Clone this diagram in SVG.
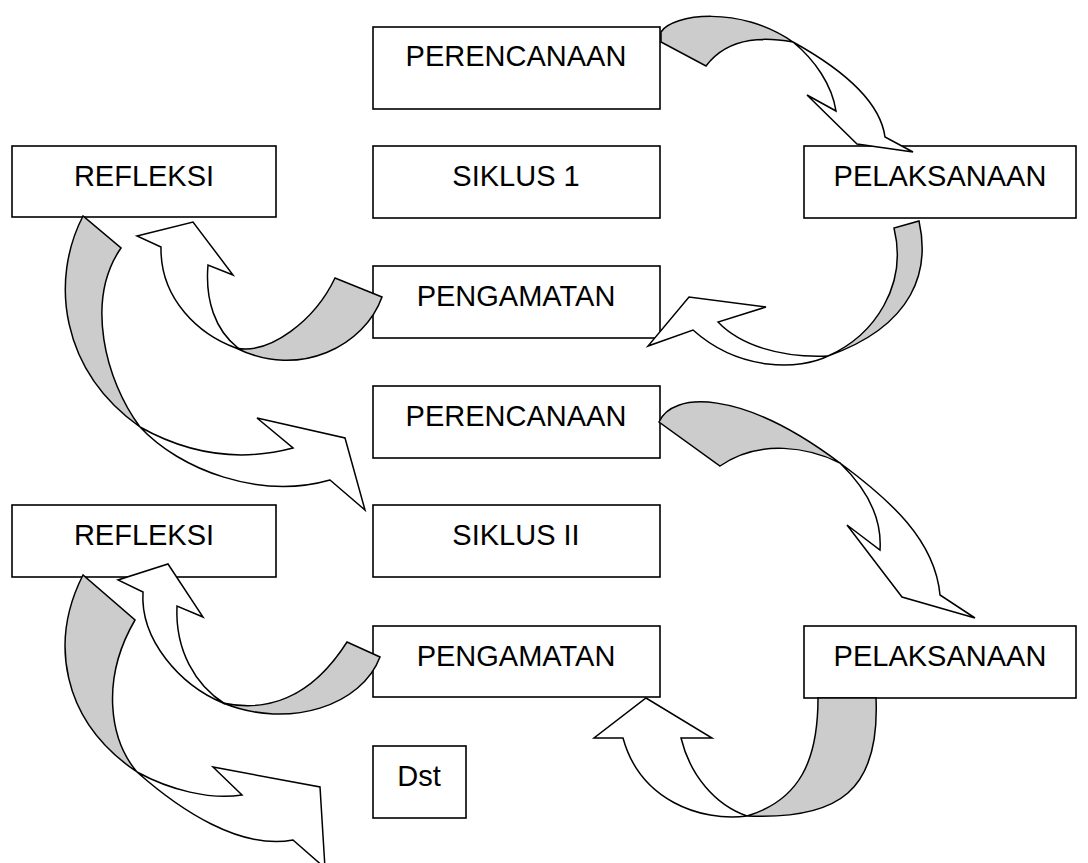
<svg xmlns="http://www.w3.org/2000/svg" width="1088" height="863" viewBox="0 0 1088 863">
<style>
.box{fill:#fff;stroke:#000;stroke-width:1.6}
.lbl{font-family:"Liberation Sans",Arial,sans-serif;font-size:29px;fill:#000;text-anchor:middle}
.back{fill:#cccccc;stroke:#000;stroke-width:1.5;stroke-linejoin:miter}
.front{fill:#fff;stroke:#000;stroke-width:1.5;stroke-linejoin:miter}
</style>
<rect width="1088" height="863" fill="#fff"/>
<g id="perencanaan1"><rect class="box" x="373" y="27" width="287" height="82"/><text class="lbl" x="516" y="66">PERENCANAAN</text></g>
<g id="siklus1"><rect class="box" x="373" y="146" width="287" height="72"/><text class="lbl" x="516" y="186">SIKLUS 1</text></g>
<g id="refleksi1"><rect class="box" x="12" y="146" width="264" height="71"/><text class="lbl" x="144" y="186">REFLEKSI</text></g>
<g id="pelaksanaan1"><rect class="box" x="804" y="146" width="272" height="72"/><text class="lbl" x="940" y="186">PELAKSANAAN</text></g>
<g id="pengamatan1"><rect class="box" x="373" y="266" width="287" height="72"/><text class="lbl" x="516" y="306">PENGAMATAN</text></g>
<g id="perencanaan2"><rect class="box" x="373" y="386" width="287" height="72"/><text class="lbl" x="516" y="426">PERENCANAAN</text></g>
<g id="refleksi2"><rect class="box" x="12" y="505" width="264" height="72"/><text class="lbl" x="144" y="545">REFLEKSI</text></g>
<g id="siklus2"><rect class="box" x="373" y="505" width="287" height="72"/><text class="lbl" x="516" y="545">SIKLUS II</text></g>
<g id="pengamatan2"><rect class="box" x="373" y="626" width="287" height="71"/><text class="lbl" x="516" y="666">PENGAMATAN</text></g>
<g id="pelaksanaan2"><rect class="box" x="804" y="626" width="272" height="72"/><text class="lbl" x="940" y="666">PELAKSANAAN</text></g>
<g id="dst"><rect class="box" x="373" y="746" width="93" height="72"/><text class="lbl" x="419" y="786">Dst</text></g>
<g id="connectors">
<g id="arrowA">
<path class="back" d="M661,32 C672,14 740,5 793,42 C770,38 730,34 706,66 L661,42 Z"/>
<path class="front" d="M793,42 C840,68 880,100 885,137 L913,152 L857,144 L807,95 L836,111 C832,85 815,60 793,42 Z"/>
</g>
<g id="arrowB">
<path class="back" d="M919,221 C930,270 915,325 828,356 C875,335 908,285 894,228 Z"/>
<path class="front" d="M828,356 C800,370 740,372 693,330 L648,346 L689,297 L766,307 L718,322 C740,345 780,358 828,356 Z"/>
</g>
<g id="arrowC">
<path class="back" d="M382,297 C365,345 300,380 236,348 C270,355 315,320 335,278 Z"/>
<path class="front" d="M236,348 C200,335 160,300 161,247 L137,236 L193,222 L233,275 L208,265 C205,300 215,330 238,348 Z"/>
</g>
<g id="arrowD">
<path class="back" d="M83,216 C50,280 60,370 140,427 C105,380 85,300 121,248 Z"/>
<path class="front" d="M140,427 C180,470 260,500 330,480 L365,510 L345,438 L257,418 L293,448 C240,462 190,455 140,427 Z"/>
</g>
<g id="arrowE">
<path class="back" d="M659,422 C672,392 740,388 840,463 C810,448 760,438 720,466 Z"/>
<path class="front" d="M840,463 C890,500 935,540 940,595 L975,618 L902,597 L847,525 L880,550 C882,520 868,490 840,463 Z"/>
</g>
<g id="arrowF">
<path class="back" d="M876,698 C880,790 840,820 747,816 C800,800 818,760 818,698 Z"/>
<path class="front" d="M747,816 C700,822 640,800 623,738 L594,738 L646,698 L712,738 L681,738 C690,775 715,805 747,816 Z"/>
</g>
<g id="arrowG">
<path class="back" d="M380,657 C362,705 290,730 223,703 C265,712 310,700 347,642 Z"/>
<path class="front" d="M223,703 C180,685 140,640 143,592 L118,580 L168,564 L203,617 L177,606 C175,650 195,685 225,704 Z"/>
</g>
<g id="arrowH">
<path class="back" d="M83,575 C50,640 60,720 137,772 C110,740 100,680 135,620 Z"/>
<path class="front" d="M137,772 C180,810 240,850 293,840 L325,868 L320,787 L213,767 L242,795 C210,800 170,790 137,772 Z"/>
</g>
</g>
</svg>
